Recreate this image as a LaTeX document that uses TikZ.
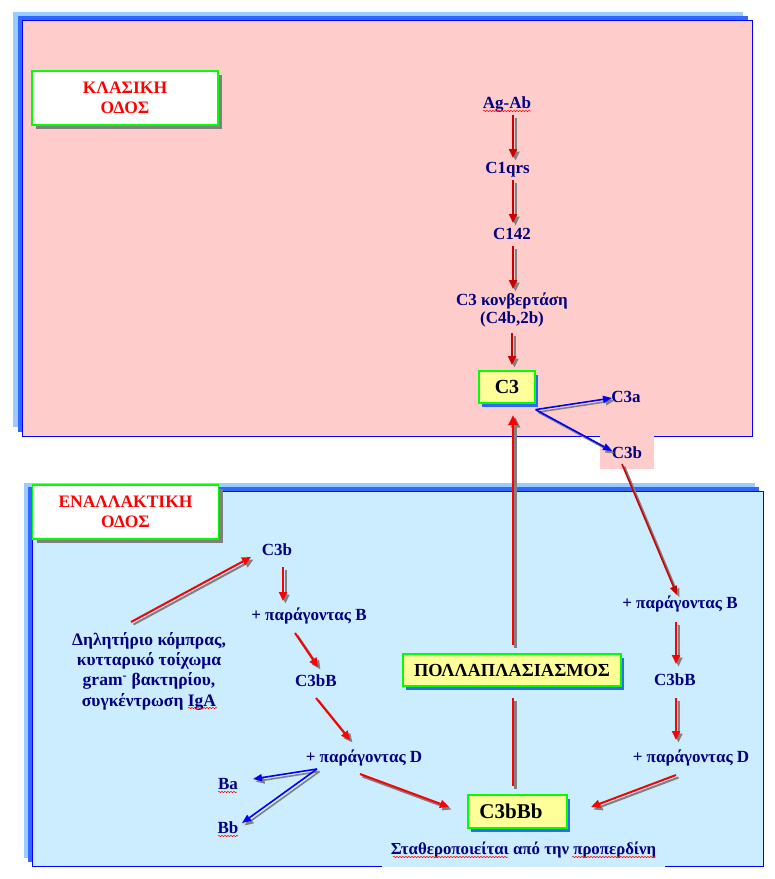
\documentclass[tikz,border=0pt]{standalone}
\usepackage{fontspec}
\setmainfont{Liberation Serif}
\usetikzlibrary{arrows.meta,calc,shadows,decorations.pathmorphing}
\definecolor{pinkbg}{HTML}{FFCCCC}
\definecolor{bluebg}{HTML}{CCECFF}
\definecolor{layA}{HTML}{99CCFF}
\definecolor{layB}{HTML}{3366FF}
\definecolor{navy}{HTML}{000080}
\definecolor{yel}{HTML}{FFFF99}
\definecolor{grn}{HTML}{00FF00}
\definecolor{dred}{HTML}{CC0000}
\definecolor{bred}{HTML}{FF0000}
\definecolor{shg}{HTML}{808080}
\definecolor{bblue}{HTML}{0000FF}
\newcommand\sarr[3]{\draw[#1,shd] #2 -- #3; \draw[#1] #2 -- #3;}
\begin{document}
\begin{tikzpicture}[x=1pt,y=-1pt,
  lbl/.style={text=navy, font=\bfseries\fontsize{17}{19}\selectfont, inner sep=1pt},
  titlebox/.style={draw=grn, line width=1.2pt, fill=white, text=bred,
    font=\bfseries\fontsize{17.5}{20}\selectfont, align=center,
    minimum width=186pt, minimum height=54pt,
    drop shadow={shadow xshift=4pt, shadow yshift=-4pt, opacity=1, fill=shg}},
  ybox/.style={draw=grn, line width=1.2pt, fill=yel, text=black,
    drop shadow={shadow xshift=3pt, shadow yshift=-4pt, opacity=1, fill=layB}},
  arr/.style={line width=2pt, -{Triangle[length=9pt,width=8pt]}},
  rT/.style={arr, draw=dred, color=dred},
  rB/.style={arr, draw=bred, color=bred},
  bA/.style={line width=1.6pt, -{Triangle[length=9pt,width=7pt]}, draw=bblue, color=bblue},
  plain/.style={line width=2.4pt, draw=bred},
  big/.style={line width=2.4pt, -{Triangle[length=10pt,width=9pt]}, draw=bred, color=bred},
  shd/.style={draw=shg, color=shg, transform canvas={shift={(2.5pt,-2.5pt)}}},
  squig/.style={draw=red, line width=0.5pt, decorate, decoration={snake, amplitude=0.7pt, segment length=3pt}}
]
\useasboundingbox (0,0) rectangle (775,879);
% top panel
\fill[layA] (13,12) rectangle (743,427);
\fill[layB] (17.5,16) rectangle (748,432);
\draw[fill=pinkbg, draw=bblue, line width=1pt] (22,20) rectangle (752,436);
% bottom panel
\fill[layA] (24,483) rectangle (755,858);
\fill[layB] (28,487) rectangle (759,862);
\draw[fill=bluebg, draw=bblue, line width=1pt] (32,491) rectangle (763,866);

% titles
\node[titlebox] (t1) at (125,98) {ΚΛΑΣΙΚΗ\\ΟΔΟΣ};
\node[titlebox] (t2) at (125.5,512) {ΕΝΑΛΛΑΚΤΙΚΗ\\ΟΔΟΣ};

% top labels
\node[lbl, anchor=base] (agab) at (507,108) {Ag-Ab};
\node[lbl, anchor=base] (c1qrs) at (507.5,173) {C1qrs};
\node[lbl, anchor=base] (c142) at (512,239) {C142};
\node[lbl, align=center, font=\bfseries\fontsize{17}{18}\selectfont] (conv) at (512,310) {C3 κονβερτάση\\(C4b,2b)};
\node[ybox, minimum width=56pt, minimum height=32pt, font=\bfseries\fontsize{20}{22}\selectfont] (c3) at (507,387) {C3};
\node[lbl, anchor=base] (c3a) at (626,402) {C3a};
\node[lbl, fill=pinkbg, minimum width=54pt, minimum height=33pt] (c3bt) at (627,452.5) {C3b};

% bottom labels
\node[lbl, anchor=base] (c3bl) at (277,555) {C3b};
\node[lbl, anchor=base] (pbl) at (309,620) {+ παράγοντας B};
\node[lbl, anchor=base] (c3bbl) at (316,686) {C3bB};
\node[lbl, anchor=base] (pdl) at (364,762) {+ παράγοντας D};
\node[lbl, anchor=base] (ba) at (228,789) {Ba};
\node[lbl, anchor=base] (bb) at (228,833) {Bb};
\node[lbl, anchor=base] (pbr) at (680,608) {+ παράγοντας B};
\node[lbl, anchor=base] (c3bbr) at (675,685) {C3bB};
\node[lbl, anchor=base] (pdr) at (691,762) {+ παράγοντας D};
\node[lbl, align=center, font=\bfseries\fontsize{17.5}{20.3}\selectfont] (dil) at (149,671)
  {Δηλητήριο κόμπρας,\\κυτταρικό τοίχωμα\\gram\textsuperscript{-} βακτηρίου,\\συγκέντρωση IgA};
\node[ybox, minimum width=218pt, minimum height=32pt, font=\bfseries\fontsize{18.4}{20}\selectfont] (poll) at (512,670) {ΠΟΛΛΑΠΛΑΣΙΑΣΜΟΣ};
\node[ybox, minimum width=99pt, minimum height=33pt, font=\bfseries\fontsize{21}{22}\selectfont] (c3bbb) at (517.5,811.5) {C3bBb\hspace*{13pt}};
\node[lbl, fill=bluebg, minimum width=283pt, minimum height=34pt, font=\bfseries\fontsize{16.8}{19}\selectfont] (stab) at (523.5,850) {Σταθεροποιείται από την προπερδίνη};

% spelling squiggles
\draw[squig] ($(agab.base)+(-24,3)$) -- ($(agab.base)+(24,3)$);
\draw[squig] ($(ba.base)+(-10,3)$) -- ($(ba.base)+(9,3)$);
\draw[squig] ($(bb.base)+(-10,3)$) -- ($(bb.base)+(10,3)$);
\draw[squig] ($(dil.center)+(39,37)$) -- ($(dil.center)+(68,37)$);
\draw[squig] ($(stab.center)+(-130.5,7)$) -- ($(stab.center)+(-15.5,7)$);
\draw[squig] ($(stab.center)+(48.5,7)$) -- ($(stab.center)+(131.5,7)$);

% top arrows
\sarr{rT}{($(agab.base)+(6,7)$)}{($(c1qrs.base)+(5.5,-15)$)}
\sarr{rT}{($(c1qrs.base)+(5.5,7)$)}{($(c142.base)+(1,-16)$)}
\sarr{rT}{($(c142.base)+(1,7)$)}{($(conv.center)+(1,-21)$)}
\sarr{rT}{($(conv.center)+(0,23)$)}{($(c3.center)+(5,-22)$)}
\sarr{bA}{($(c3.south east)+(0,6)$)}{($(c3a.base)+(-14,-4)$)}
\sarr{bA}{($(c3.south east)+(0,6)$)}{($(c3bt.center)+(-15,-1.5)$)}
% right column
\draw[shd, line width=1.6pt, -{Triangle[length=9pt,width=7pt]}] ($(c3bt.center)+(-5,11.5)$) -- ($(pbr.base)+(-3,-13)$);
\draw[line width=1.6pt, -{Triangle[length=9pt,width=7pt]}, draw=dred, color=dred] ($(c3bt.center)+(-5,11.5)$) -- ($(pbr.base)+(-3,-13)$);
\sarr{rB}{($(pbr.base)+(-4,14)$)}{($(c3bbr.base)+(1,-21)$)}
\sarr{rB}{($(c3bbr.base)+(1,13)$)}{($(pdr.base)+(-15,-22)$)}
\sarr{rB}{($(pdr.base)+(-15,13)$)}{($(c3bbb.center)+(73.5,-4.5)$)}
% left column
\sarr{rB}{($(dil.center)+(-18,-49)$)}{($(c3bl.base)+(-26,2)$)}
\sarr{rB}{($(c3bl.base)+(6,12)$)}{($(pbl.base)+(-26,-19)$)}
\sarr{rB}{($(pbl.base)+(-14,13)$)}{($(c3bbl.base)+(2,-19)$)}
\sarr{rB}{($(c3bbl.base)+(0,12)$)}{($(pdl.base)+(-14,-22)$)}
\sarr{rB}{($(pdl.base)+(-4,12)$)}{($(c3bbb.center)+(-68.5,-4.5)$)}
\sarr{bA}{($(pdl.base)+(-47,7)$)}{($(ba.base)+(25,-10)$)}
\sarr{bA}{($(pdl.base)+(-47,7)$)}{($(bb.base)+(14,-10)$)}
% centre
\sarr{plain}{($(c3bbb.center)+(-4.5,-25.5)$)}{($(poll.center)+(1,28)$)}
\sarr{big}{($(poll.center)+(1,-25)$)}{($(c3.center)+(6,28)$)}
\end{tikzpicture}
\end{document}
